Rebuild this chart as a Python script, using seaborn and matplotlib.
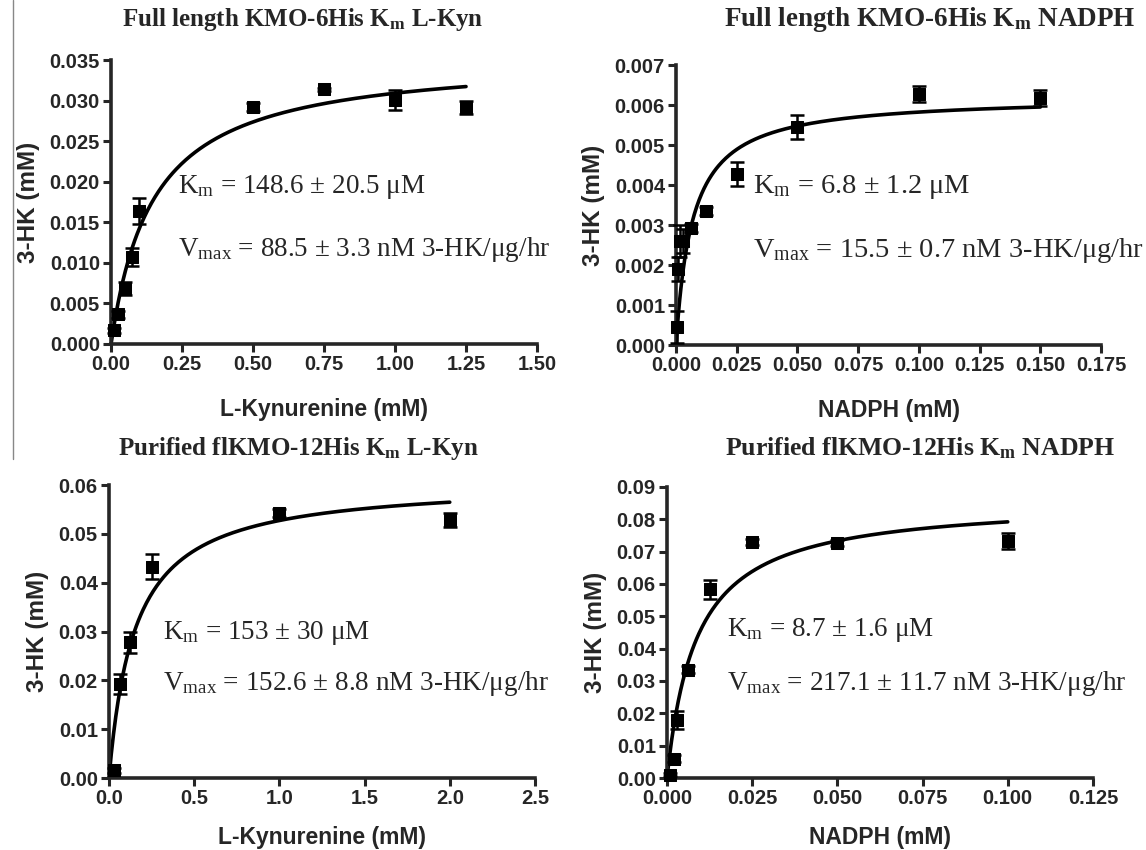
import numpy as np
import pandas as pd
import matplotlib
matplotlib.use("Agg")
import matplotlib.pyplot as plt
import seaborn as sns
from matplotlib.lines import Line2D

# panel 1: full length KMO-6His, L-Kyn
kyn1_x = [0.01, 0.025, 0.05, 0.075, 0.1, 0.5, 0.75, 1.0, 1.25]
kyn1_y = [0.00167, 0.00364, 0.00685, 0.0107, 0.0164, 0.0292, 0.0314, 0.0301, 0.0291]
kyn1_err = [0.0003, 0.0004, 0.0008, 0.0011, 0.0016, 0.0005, 0.0002, 0.0012, 0.0008]
kyn1_fit = (0.1486, 0.0355)   # Km (mM), Vmax (mM)

# panel 2: full length KMO-6His, NADPH
nad1_x = [0.0005, 0.001, 0.0015, 0.003, 0.00625, 0.0125, 0.025, 0.05, 0.1, 0.15]
nad1_y = [0.00045, 0.0019, 0.0026, 0.0026, 0.00293, 0.00334, 0.00428, 0.00546, 0.00627, 0.00617]
nad1_err = [0.0004, 0.0003, 0.0004, 0.0003, 0.0001, 0.0001, 0.0003, 0.0003, 0.0002, 0.0002]
nad1_fit = (0.0068, 0.00622)

# panel 3: purified flKMO-12His, L-Kyn
kyn2_x = [0.03, 0.0625, 0.125, 0.25, 1.0, 2.0]
kyn2_y = [0.0016, 0.0193, 0.0278, 0.0433, 0.0543, 0.0528]
kyn2_err = [0.0005, 0.002, 0.0022, 0.0025, 0.0008, 0.0015]
kyn2_fit = (0.153, 0.0608)

# panel 4: purified flKMO-12His, NADPH
nad2_x = [0.001, 0.002, 0.003, 0.00625, 0.0125, 0.025, 0.05, 0.1]
nad2_y = [0.001, 0.006, 0.018, 0.0335, 0.0583, 0.073, 0.0727, 0.0733]
nad2_err = [0.0005, 0.001, 0.0028, 0.001, 0.003, 0.001, 0.001, 0.0025]
nad2_fit = (0.0087, 0.0861)

titles = [r"Full length KMO-6His K$_\mathbf{m}$ L-Kyn",
          r"Full length KMO-6His K$_\mathbf{m}$ NADPH",
          r"Purified flKMO-12His K$_\mathbf{m}$ L-Kyn",
          r"Purified flKMO-12His K$_\mathbf{m}$ NADPH"]
km_text = [r"K$_\mathrm{m}$ = 148.6 ± 20.5 μM",
           r"K$_\mathrm{m}$ = 6.8 ± 1.2 μM",
           r"K$_\mathrm{m}$ = 153 ± 30 μM",
           r"K$_\mathrm{m}$ = 8.7 ± 1.6 μM"]
vmax_text = [r"V$_\mathrm{max}$ = 88.5 ± 3.3 nM 3-HK/μg/hr",
             r"V$_\mathrm{max}$ = 15.5 ± 0.7 nM 3-HK/μg/hr",
             r"V$_\mathrm{max}$ = 152.6 ± 8.8 nM 3-HK/μg/hr",
             r"V$_\mathrm{max}$ = 217.1 ± 11.7 nM 3-HK/μg/hr"]
xlabels = ["L-Kynurenine (mM)", "NADPH (mM)", "L-Kynurenine (mM)", "NADPH (mM)"]
xticks = [np.arange(0, 1.51, 0.25), np.arange(0, 0.176, 0.025),
          np.arange(0, 2.51, 0.5), np.arange(0, 0.126, 0.025)]
yticks = [np.arange(0, 0.0351, 0.005), np.arange(0, 0.00701, 0.001),
          np.arange(0, 0.0601, 0.01), np.arange(0, 0.0901, 0.01)]
xfmt = ["%.2f", "%.3f", "%.1f", "%.3f"]
yfmt = ["%.3f", "%.3f", "%.2f", "%.2f"]

sns.set_style("ticks")
plt.rcParams["font.family"] = ["Liberation Sans", "DejaVu Sans"]
plt.rcParams["mathtext.fontset"] = "custom"
plt.rcParams["mathtext.rm"] = "Liberation Serif"
plt.rcParams["mathtext.it"] = "Liberation Serif:italic"
plt.rcParams["mathtext.bf"] = "Liberation Serif:bold"

fig = plt.figure(figsize=(11.46, 8.5), dpi=100)
rects = [[0.0969, 0.5953, 0.3717, 0.3341],
         [0.5899, 0.5941, 0.3709, 0.3294],
         [0.0951, 0.0847, 0.3717, 0.3447],
         [0.5820, 0.0847, 0.3717, 0.3424]]
txt_pos = [(0.157, 0.553, 0.331), (0.181, 0.564, 0.339),
           (0.127, 0.495, 0.324), (0.141, 0.509, 0.326)]
txt_size = [19.5, 20.5, 19.5, 19.5]
title_pos = [(0.451, 1.141), (0.598, 1.161), (0.444, 1.126), (0.594, 1.134)]
title_size = [18, 19.5, 18, 18.5]
xpads = [17, 17, 13, 13]

panels = [(kyn1_x, kyn1_y, kyn1_err, kyn1_fit),
          (nad1_x, nad1_y, nad1_err, nad1_fit),
          (kyn2_x, kyn2_y, kyn2_err, kyn2_fit),
          (nad2_x, nad2_y, nad2_err, nad2_fit)]

for i, (x, y, err, fit) in enumerate(panels):
    ax = fig.add_axes(rects[i])
    df = pd.DataFrame({"x": x, "y": y, "err": err})
    km, vmax = fit
    xs = np.linspace(0, max(x), 300)
    curve = pd.DataFrame({"x": xs, "y": vmax * xs / (km + xs)})
    sns.lineplot(data=curve, x="x", y="y", ax=ax, color="black", lw=2.6)
    ax.errorbar(df["x"], df["y"], yerr=df["err"], fmt="none", ecolor="black",
                elinewidth=1.8, capsize=5, capthick=1.8, clip_on=False, zorder=3)
    sns.scatterplot(data=df, x="x", y="y", ax=ax, marker="s", s=85, color="black",
                    edgecolor="black", clip_on=False, zorder=4)
    ax.set_xlim(xticks[i][0], xticks[i][-1])
    ax.set_ylim(yticks[i][0], yticks[i][-1])
    ax.set_xticks(xticks[i])
    ax.set_yticks(yticks[i])
    ax.set_xticklabels([xfmt[i] % v for v in xticks[i]])
    ax.set_yticklabels([yfmt[i] % v for v in yticks[i]])
    ax.tick_params(axis="both", direction="out", length=6, width=2.2,
                   labelsize=14.5, pad=2)
    for lab in ax.get_xticklabels() + ax.get_yticklabels():
        lab.set_fontweight("bold")
    sns.despine(ax=ax)
    for sp in ["left", "bottom"]:
        ax.spines[sp].set_linewidth(2.6)
    ax.set_xlabel(xlabels[i], fontsize=16.5, fontweight="bold", labelpad=xpads[i])
    ax.set_ylabel("3-HK (mM)", fontsize=17.5, fontweight="bold", labelpad=7)
    ax.text(title_pos[i][0], title_pos[i][1], titles[i], transform=ax.transAxes,
            fontsize=title_size[i], fontweight="bold", family="Liberation Serif",
            ha="center", va="center")
    tx, ty1, ty2 = txt_pos[i]
    ax.text(tx, ty1, km_text[i], transform=ax.transAxes, fontsize=txt_size[i],
            family="Liberation Serif", va="center", ha="left")
    ax.text(tx, ty2, vmax_text[i], transform=ax.transAxes, fontsize=txt_size[i],
            family="Liberation Serif", va="center", ha="left")

# thin border line on the far left of the original figure
fig.add_artist(Line2D([0.011, 0.011], [1.0, 0.46], color="#888888", lw=1,
                      transform=fig.transFigure))

fig.savefig("out.png", dpi=100)
